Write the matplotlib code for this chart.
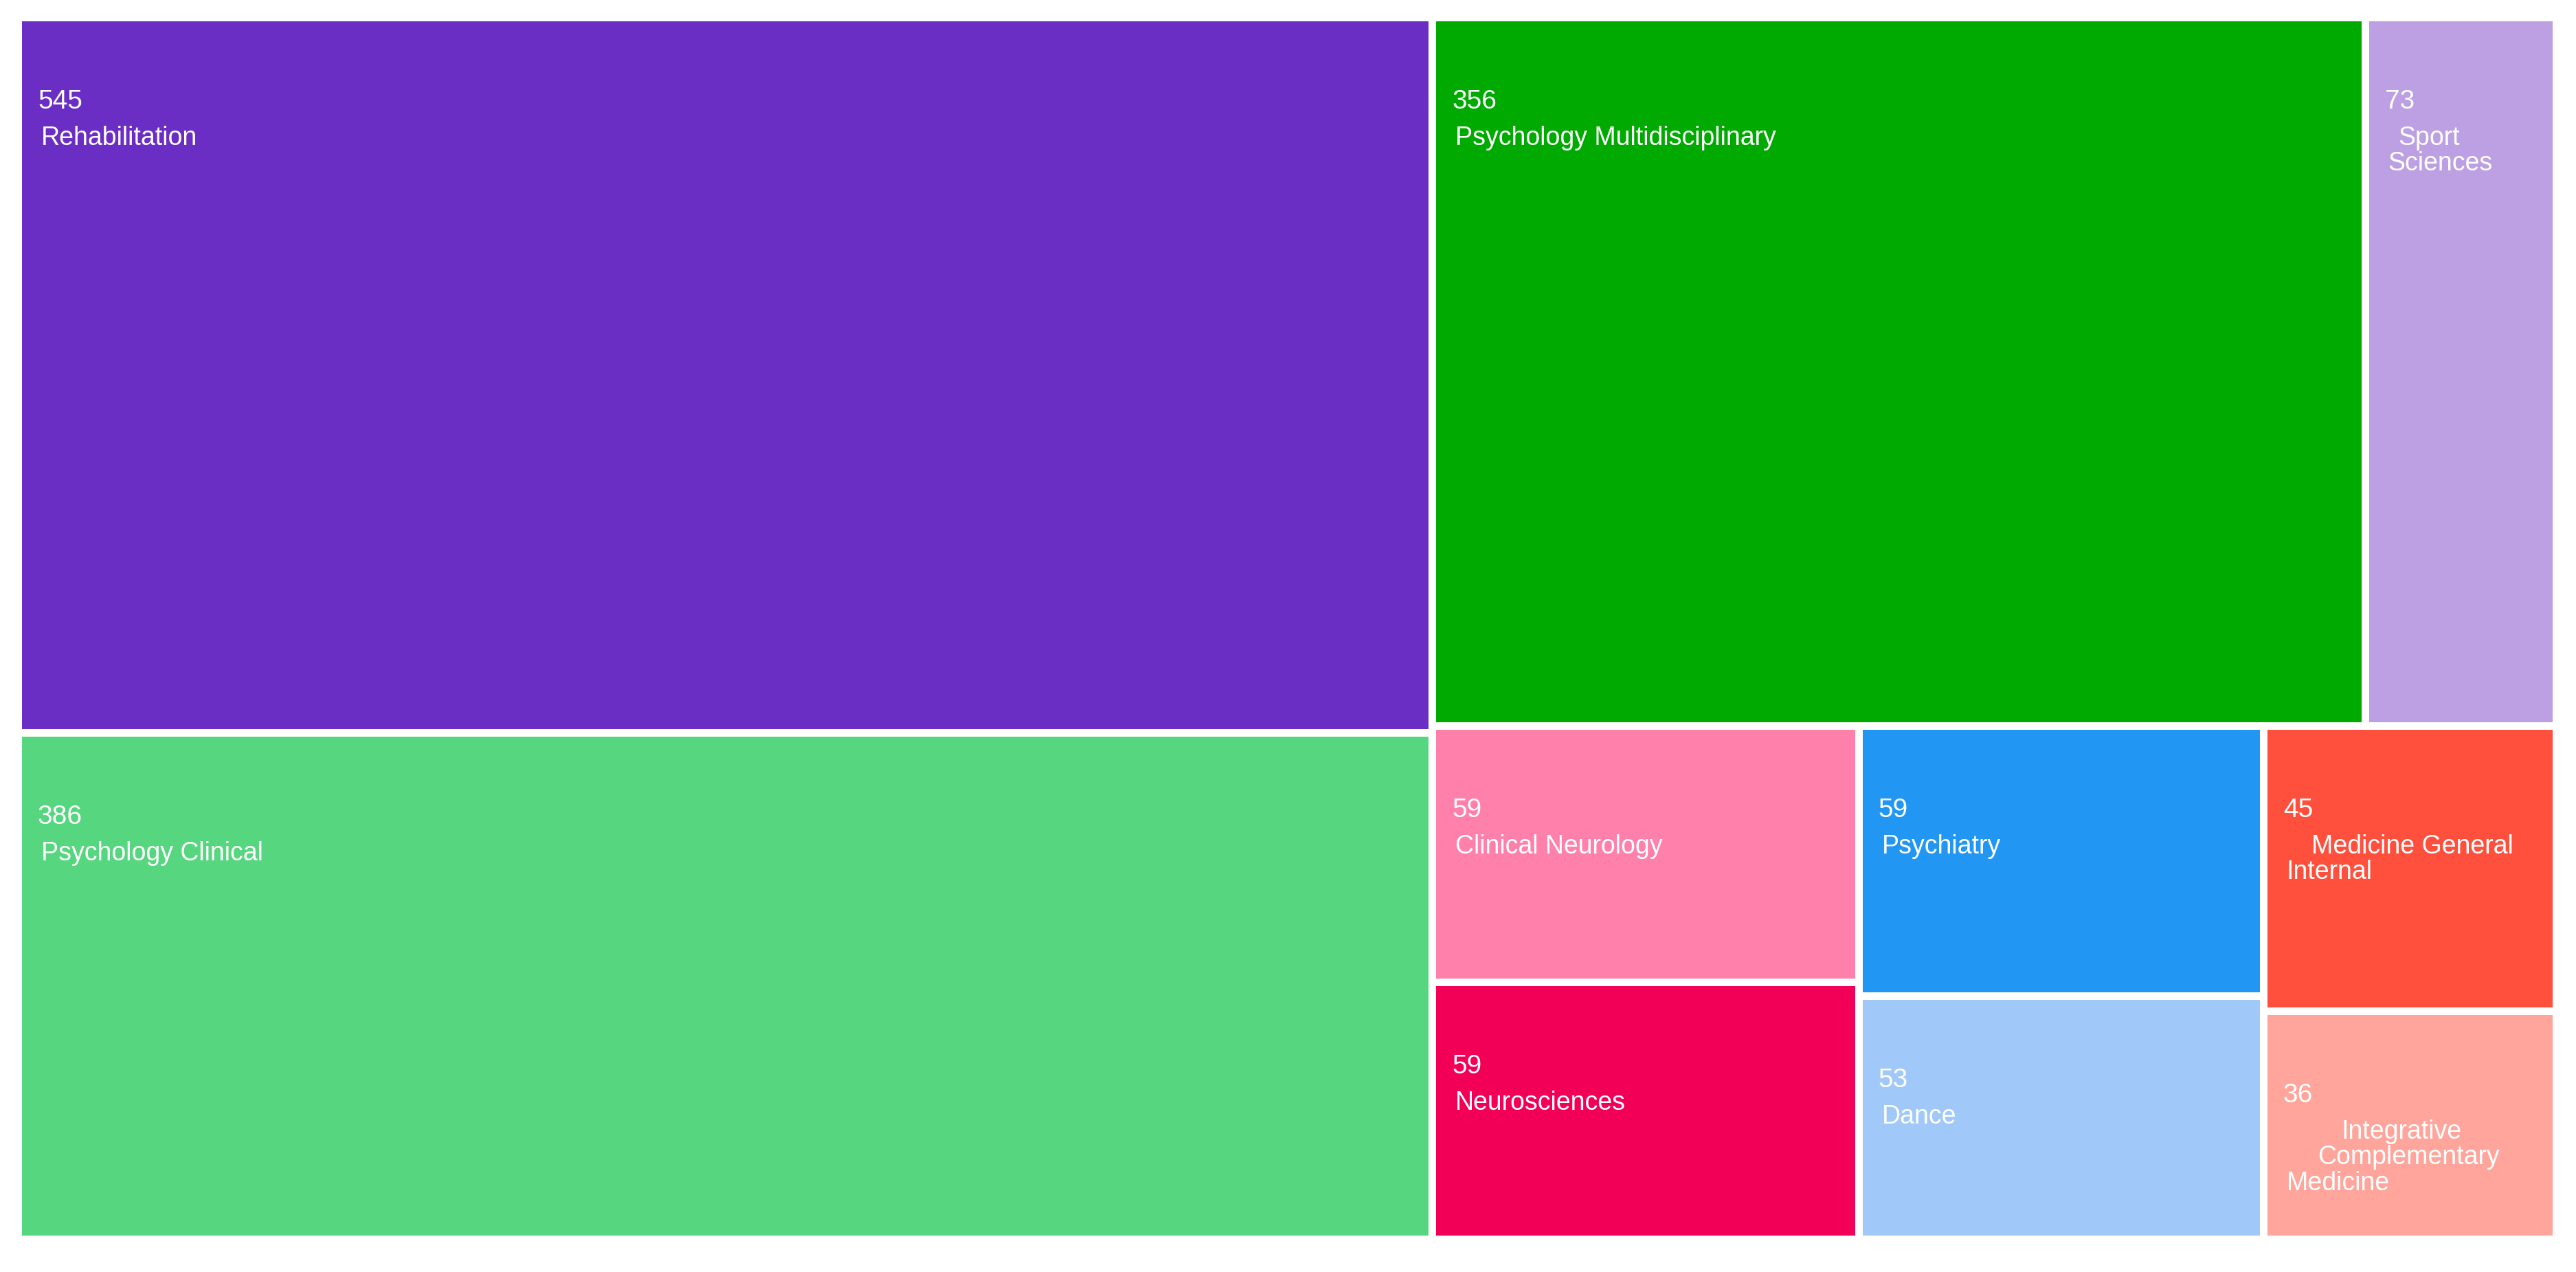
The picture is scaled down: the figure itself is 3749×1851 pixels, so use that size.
import matplotlib
matplotlib.use("Agg")
import matplotlib.pyplot as plt
from matplotlib.patches import Rectangle

# data
categories = ["Rehabilitation", "Psychology Clinical", "Psychology Multidisciplinary",
              "Sport Sciences", "Clinical Neurology", "Neurosciences", "Psychiatry",
              "Dance", "Medicine General Internal", "Integrative Complementary Medicine"]
values = [545, 386, 356, 73, 59, 59, 59, 53, 45, 36]
label_lines = [["Rehabilitation"], ["Psychology Clinical"], ["Psychology Multidisciplinary"],
               ["Sport", "Sciences"], ["Clinical Neurology"], ["Neurosciences"], ["Psychiatry"],
               ["Dance"], ["Medicine General", "Internal"],
               ["Integrative", "Complementary", "Medicine"]]
colors = ["#6a2ec4", "#56d67f", "#00aa00", "#bca0e3", "#ff80ab",
          "#f20058", "#2196f3", "#a0c8f9", "#ff4f3d", "#ffa59b"]
# extra indent (px) of wrapped lines, as in the original
indents = {"Sport": 15, "Medicine General": 36, "Integrative": 80, "Complementary": 45}

W, H = 3749, 1851
GAP = 11
PHI = (1 + 5 ** 0.5) / 2


def squarify(vals, x0, y0, x1, y1, ratio=PHI):
    # d3.treemapSquarify port
    rects = [None] * len(vals)
    total = float(sum(vals))
    i0 = i1 = 0
    n = len(vals)
    while i0 < n:
        dx, dy = x1 - x0, y1 - y0
        s = vals[i1]; i1 += 1
        mn = mx = s
        alpha = max(dy / dx, dx / dy) / (total * ratio)
        beta = s * s * alpha
        min_ratio = max(mx / beta, beta / mn)
        while i1 < n:
            v = vals[i1]
            s += v
            mn = min(mn, v); mx = max(mx, v)
            beta = s * s * alpha
            new_ratio = max(mx / beta, beta / mn)
            if new_ratio > min_ratio:
                s -= v
                break
            min_ratio = new_ratio
            i1 += 1
        row = range(i0, i1)
        if dx < dy:
            ny = y0 + dy * s / total
            cx = x0
            for k in row:
                w = dx * vals[k] / s
                rects[k] = (cx, y0, cx + w, ny)
                cx += w
            y0 = ny
        else:
            nx = x0 + dx * s / total
            cy = y0
            for k in row:
                h = dy * vals[k] / s
                rects[k] = (x0, cy, nx, cy + h)
                cy += h
            x0 = nx
        total -= s
        i0 = i1
    return rects


rects = squarify(values, 32, 31, 3715 + GAP, 1798 + GAP)

fig = plt.figure(figsize=(W / 100, H / 100), dpi=100)
ax = fig.add_axes([0, 0, 1, 1])
ax.set_xlim(0, W)
ax.set_ylim(H, 0)
ax.axis("off")

font = "Liberation Sans"
for (rx0, ry0, rx1, ry1), val, lines, col in zip(rects, values, label_lines, colors):
    ax.add_patch(Rectangle((rx0, ry0), rx1 - rx0 - GAP, ry1 - ry0 - GAP,
                           facecolor=col, edgecolor="none"))
    ax.text(rx0 + 23, ry0 + 127, str(val), color="white", fontsize=28,
            family=font, va="baseline", ha="left")
    for j, line in enumerate(lines):
        ax.text(rx0 + 28 + indents.get(line, 0), ry0 + 180 + 37.5 * j, line,
                color="white", fontsize=27, family=font, va="baseline", ha="left")

fig.savefig("out.png", dpi=100, facecolor="white")
